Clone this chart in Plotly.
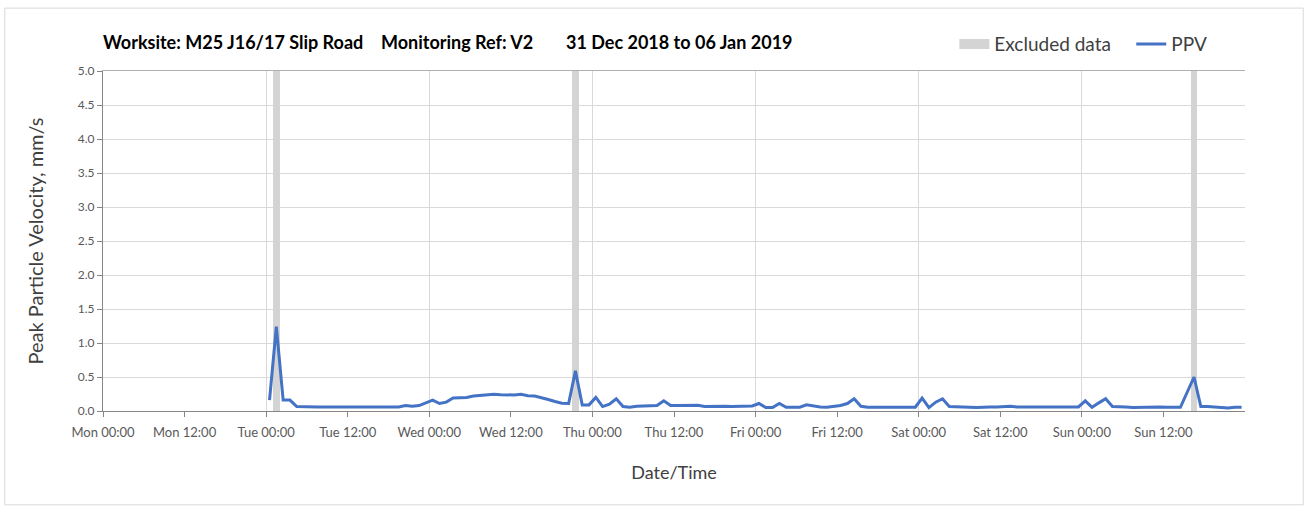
import pandas as pd
import plotly.graph_objects as go

# ---- data (hourly PPV maxima, mm/s) ----
tue = [0.16, 1.24, 0.16, 0.16, 0.065, 0.06, 0.06, 0.06, 0.06, 0.06, 0.06, 0.07,
       0.06, 0.07, 0.06, 0.06, 0.07, 0.06, 0.07, 0.06, 0.08, 0.07, 0.08, 0.12]
wed = [0.16, 0.11, 0.13, 0.19, 0.19, 0.20, 0.22, 0.23, 0.24, 0.245, 0.24, 0.235,
       0.235, 0.245, 0.225, 0.22, 0.20, 0.17, 0.14, 0.115, 0.11, 0.59, 0.09, 0.09]
thu = [0.20, 0.065, 0.10, 0.18, 0.065, 0.055, 0.07, 0.075, 0.075, 0.08, 0.15, 0.08,
       0.08, 0.08, 0.085, 0.085, 0.065, 0.07, 0.075, 0.07, 0.065, 0.07, 0.075, 0.075]
fri = [0.11, 0.05, 0.05, 0.11, 0.055, 0.055, 0.055, 0.09, 0.07, 0.06, 0.055, 0.07,
       0.08, 0.11, 0.18, 0.07, 0.055, 0.055, 0.055, 0.055, 0.055, 0.055, 0.055, 0.055]
sat = [0.19, 0.05, 0.13, 0.18, 0.065, 0.065, 0.065, 0.055, 0.05, 0.06, 0.06, 0.06,
       0.065, 0.07, 0.06, 0.06, 0.065, 0.07, 0.06, 0.065, 0.06, 0.07, 0.06, 0.06]
sun = [0.15, 0.055, 0.12, 0.18, 0.065, 0.065, 0.06, 0.05, 0.055, 0.06, 0.06, 0.06,
       0.055, 0.055, 0.055, None, 0.50, 0.065, 0.065, 0.06, 0.055, 0.045, 0.055, 0.055]

ppv_start = "2019-01-01 00:30"
ppv_values = tue + wed + thu + fri + sat + sun
ppv_times = pd.date_range(ppv_start, periods=len(ppv_values), freq="h")

excluded_times = ["2019-01-01 01:30", "2019-01-02 21:30", "2019-01-06 16:30"]
excluded_height = [5, 5, 5]

x_range = ["2018-12-31 00:00", "2019-01-07 00:00"]
x_ticks = pd.date_range(x_range[0], periods=14, freq="12h")
y_ticks = [0, 0.5, 1.0, 1.5, 2.0, 2.5, 3.0, 3.5, 4.0, 4.5, 5.0]

title_parts = ["Worksite: M25 J16/17 Slip Road", "Monitoring Ref: V2",
               "31 Dec 2018 to 06 Jan 2019"]

FONT = "Lato"
GREY_BAND = "#d4d4d4"
fig = go.Figure()
fig.add_trace(go.Bar(
    x=excluded_times, y=excluded_height, width=3600000,
    marker=dict(color=GREY_BAND, line=dict(width=0)),
    name="Excluded data", hoverinfo="skip", showlegend=False))
# legend-only entry for the excluded bands (wide grey swatch)
fig.add_trace(go.Scatter(x=[None], y=[None], mode="lines", name="Excluded data",
                         line=dict(color=GREY_BAND, width=10), legend="legend"))
fig.add_trace(go.Scatter(
    x=ppv_times, y=ppv_values, mode="lines", connectgaps=True,
    line=dict(color="#4472C4", width=3), name="PPV", legend="legend2"))

legend_common = dict(orientation="h", xanchor="left", yanchor="middle", y=1.079,
                     font=dict(size=19, color="#404040"), itemwidth=30,
                     bgcolor="rgba(0,0,0,0)")

fig.update_layout(
    width=1309, height=507,
    margin=dict(l=103, r=64, t=71, b=96),
    paper_bgcolor="white", plot_bgcolor="white",
    font=dict(family=FONT, color="#595959"),
    showlegend=True,
    legend=dict(x=0.7455, **legend_common),
    legend2=dict(x=0.9004, **legend_common),
    bargap=0,
    xaxis=dict(type="date", range=x_range, tickvals=x_ticks,
               tickformat="%a %H:%M", showgrid=False, ticks="outside", ticklen=5,
               tickcolor="#868686", showline=True, linecolor="#868686",
               tickfont=dict(size=13, color="#595959"), ticklabelstandoff=4,
               title=dict(text="Date/Time", font=dict(size=18, color="#404040"), standoff=27),
               zeroline=False),
    xaxis2=dict(type="date", range=x_range, overlaying="x", side="top",
                dtick=86400000, tick0=x_range[0], showgrid=True, gridcolor="#d9d9d9",
                showticklabels=False, ticks="", showline=True, linecolor="#b0b0b0"),
    yaxis=dict(range=[0, 5], tickvals=y_ticks, tickformat=".1f", showgrid=True,
               gridcolor="#d9d9d9", ticks="outside", ticklen=5, tickcolor="#868686",
               showline=True, linecolor="#868686", zeroline=False,
               tickfont=dict(size=12, color="#595959"),
               title=dict(text="Peak Particle Velocity, mm/s",
                          font=dict(size=20, color="#404040"), standoff=28)),
)
# invisible anchor trace for xaxis2 so the daily gridlines render
fig.add_trace(go.Scatter(x=[x_range[0]], y=[None], xaxis="x2", showlegend=False,
                         hoverinfo="skip"))

title_x = [-0.002, 0.242, 0.404]
for txt, xp in zip(title_parts, title_x):
    fig.add_annotation(text=txt, xref="paper", yref="paper", x=xp, y=1.085,
                       xanchor="left", yanchor="middle", showarrow=False,
                       font=dict(family=FONT, size=18, color="#000000", weight="bold"))

fig.add_shape(type="rect", xref="paper", yref="paper", x0=-0.086, x1=1.051,
              y0=-0.276, y1=1.185, line=dict(color="#d9d9d9", width=1), layer="below")

fig.write_html("out.html", config={"displayModeBar": False})

# remove the browser's default body margin so the figure sits at the page origin
with open("out.html", "r", encoding="utf-8") as f:
    html = f.read()
html = html.replace("<head>", "<head><style>html,body{margin:0;padding:0;}</style>", 1)
with open("out.html", "w", encoding="utf-8") as f:
    f.write(html)
